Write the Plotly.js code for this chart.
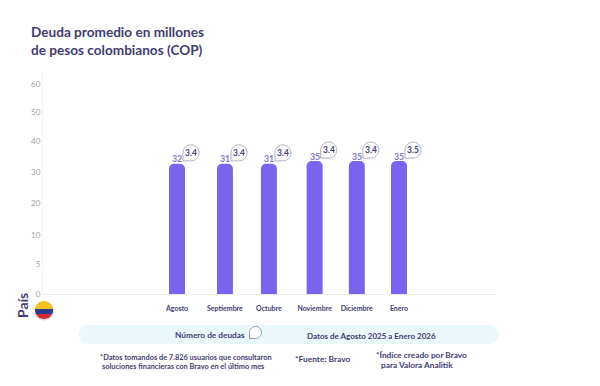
<!DOCTYPE html>
<html><head><meta charset="utf-8">
<script src="https://cdn.plot.ly/plotly-3.0.1.min.js"></script>
<style>html,body{margin:0;padding:0;background:#fff}#c{width:600px;height:386px}</style>
</head><body><div id="c"></div>
<script>
const months = ["Agosto","Septiembre","Octubre","Noviembre","Diciembre","Enero"];
const monthSlots = [0, 1.08, 2.07, 3.1, 4.05, 5];
const debtLabels = [32, 31, 31, 35, 35, 35];
const barHeightsRead = [32.6, 32.6, 32.6, 33.5, 33.5, 33.5];
const debtCounts = ["3.4","3.4","3.4","3.4","3.4","3.5"];
const axisTicks = [0, 5, 10, 20, 30, 40, 50, 60];
const tickRanks = [0, 1, 1.97, 3.03, 4.07, 5.1, 6.07, 7];

const navy = "#3f3c72", purple = "#7b63ee", label = "#8377c9";
const L = 43, R = 497, T = 72, B = 294;
const FONT = "Lato, 'Open Sans', sans-serif";

function rank(v){
  for(let i=1;i<axisTicks.length;i++){
    if(v<=axisTicks[i]){
      const f=(v-axisTicks[i-1])/(axisTicks[i]-axisTicks[i-1]);
      return tickRanks[i-1]+f*(tickRanks[i]-tickRanks[i-1]);
    }
  }
  return tickRanks[tickRanks.length-1];
}
const barY = barHeightsRead.map(rank);
const px = x => (x-L)/(R-L), py = y => (B-y)/(B-T);

function pixelShape(d, fill, line, opacity){
  return {type:"path", xref:"paper", yref:"paper", xsizemode:"pixel", ysizemode:"pixel",
    xanchor:0, yanchor:0, path:d, fillcolor:fill||"rgba(0,0,0,0)",
    line: line||{width:0}, opacity:opacity==null?1:opacity, layer:"above"};
}
const S = (x,y)=>`${(x-L).toFixed(2)},${(B-y).toFixed(2)}`;
// arc as a run of points, angles in degrees, screen coordinates
function arc(cx,cy,r,a0,a1){
  const pts=[],n=Math.max(8,Math.ceil(Math.abs(a1-a0)/6));
  for(let i=0;i<=n;i++){
    const a=(a0+(a1-a0)*i/n)*Math.PI/180;
    pts.push(S(cx+r*Math.cos(a),cy+r*Math.sin(a)));
  }
  return pts;
}
const poly = pts => "M"+pts.join(" L")+" Z";
// teardrop: circle with a square lower-left corner
const drop = (cx,cy,r) => poly([S(cx-r,cy+r)].concat(arc(cx,cy,r,180,450)));

const shapes = [];
// pill
(function(){
  const x0=79,x1=499,y0=325,y1=344,r=9.5;
  shapes.push(pixelShape(poly(arc(x1-r,y0+r,r,-90,90).concat(arc(x0+r,y0+r,r,90,270))),"#e9f8fb"));
})();
// small legend teardrop
shapes.push(pixelShape(drop(255.5,332.5,6),"#ffffff",{color:"#6a6790",width:0.7}));
// flag
(function(){
  const cx=44,cy=310,r=9;
  shapes.push(pixelShape(poly(arc(cx+0.5,cy+1.2,r+0.3,0,360)),"#888",null,0.3));
  const aTop=Math.asin((309-cy)/r)*180/Math.PI, aLow=Math.asin((314-cy)/r)*180/Math.PI;
  shapes.push(pixelShape(poly(arc(cx,cy,r,180-aTop,360+aTop)),"#f3c31d"));
  shapes.push(pixelShape(poly(arc(cx,cy,r,aTop,aLow).concat(arc(cx,cy,r,180-aLow,180-aTop))),"#2a3a8c"));
  shapes.push(pixelShape(poly(arc(cx,cy,r,aLow,180-aLow)),"#d22b34"));
})();
// bubbles anchored on the bars
monthSlots.forEach((s,i)=>{
  const r=8, pts=[];
  pts.push("6,3");
  for(let k=0;k<=45;k++){
    const a=(180+270*k/45)*Math.PI/180;
    pts.push(`${(14+r*Math.cos(a)).toFixed(2)},${(11-r*Math.sin(a)).toFixed(2)}`);
  }
  shapes.push({type:"path", xref:"x", yref:"y", xsizemode:"pixel", ysizemode:"pixel",
    xanchor:s, yanchor:barY[i],
    path:"M"+pts.join(" L")+" Z",
    fillcolor:"#ffffff", line:{color:"#8b88a8",width:0.7}, layer:"above"});
});

const annotations = [];
function note(text,x,y,size,color,anchor,weight,extra){
  annotations.push(Object.assign({text,xref:"paper",yref:"paper",x:px(x),y:py(y),xanchor:anchor||"left",yanchor:"middle",
    showarrow:false,align:"left",borderpad:0,font:{family:FONT,size,color,weight:weight||700}},extra||{}));
}
monthSlots.forEach((s,i)=>{
  annotations.push({text:debtCounts[i],xref:"x",yref:"y",x:s,y:barY[i],xshift:14,yshift:11,showarrow:false,
    xanchor:"center",yanchor:"middle",font:{family:FONT,size:8.5,color:"#45427a",weight:700}});
  annotations.push({text:String(debtLabels[i]),xref:"x",yref:"y",x:s,y:barY[i],yshift:5,showarrow:false,
    xanchor:"center",yanchor:"middle",font:{family:FONT,size:8.8,color:label,weight:700}});
});
note("Número de deudas",174,335,8.3,navy);
note("Datos de Agosto 2025 a Enero 2026",306,336,8,navy);
note("*Datos tomandos de 7.826 usuarios que consultaron",99,357,7.4,navy);
note("soluciones financieras con Bravo en el último mes",101,366,7.4,navy);
note("*Fuente: Bravo",294,359,8.4,navy);
note("*Índice creado por Bravo",375,355,8.3,navy);
note("para Valora Analitik",380,365,8.3,navy);
note("País",22,306,14,navy,"center",700,{textangle:-90});

const trace = {
  type:"bar", x:monthSlots, y:barY, width:0.36,
  marker:{color:purple,line:{width:0}},
  hoverinfo:"skip"
};
const unit = 44.4;
const layout = {
  width:600,height:386,showlegend:false,
  paper_bgcolor:"#fff",plot_bgcolor:"#fff",
  margin:{l:L,r:600-R,t:T,b:386-B,pad:0},
  barcornerradius:5,
  title:{text:"Deuda promedio en millones<br>de pesos colombianos (COP)",x:31/600,xanchor:"left",xref:"container",
    y:1-37/386,yanchor:"top",font:{family:FONT,size:13.6,color:navy,weight:700}},
  xaxis:{range:[-(177-L)/unit,(R-177)/unit],tickmode:"array",tickvals:monthSlots,ticktext:months,
    showgrid:false,zeroline:false,showline:true,linecolor:"#ececec",linewidth:1,ticks:"",
    tickangle:0,ticklen:0,ticklabelstandoff:8,tickfont:{family:FONT,size:7,color:navy,weight:700}},
  yaxis:{range:[0,(B-T)/30],tickmode:"array",tickvals:tickRanks,ticktext:axisTicks.map(String),
    showgrid:false,zeroline:false,showline:true,linecolor:"#f3f3f3",linewidth:1,ticks:"",
    tickfont:{family:FONT,size:8,color:"#a3a3a3"}},
  shapes,annotations
};
Plotly.newPlot("c",[trace],layout,{displayModeBar:false,staticPlot:true});
</script></body></html>
